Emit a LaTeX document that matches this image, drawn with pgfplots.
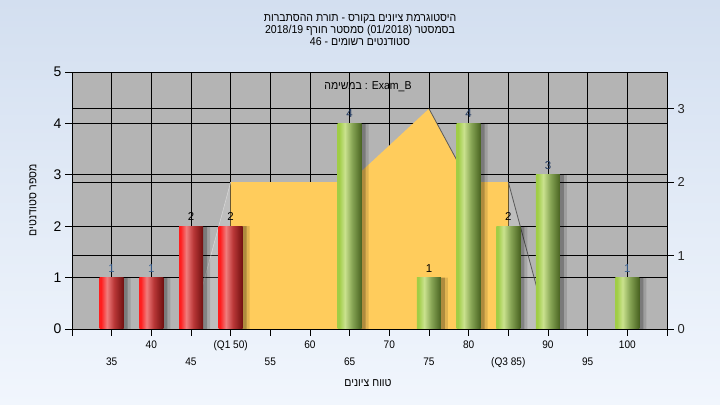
\documentclass[border=0pt]{standalone}
\usepackage{pgfplots}
\pgfplotsset{compat=1.18}
\usepackage{fontspec}
\setmainfont{Liberation Sans}
\newfontfamily\nar[FakeStretch=0.92]{Liberation Sans}
\newfontfamily\hebn[Script=Hebrew,FakeStretch=0.92]{Liberation Sans}
\TeXXeTstate=1

\definecolor{bgtop}{RGB}{211,223,240}
\definecolor{bgbot}{RGB}{241,246,253}
\definecolor{plotgray}{RGB}{180,180,180}
\definecolor{yel}{RGB}{255,204,92}
\definecolor{r1}{RGB}{255,30,30}
\definecolor{r2}{RGB}{240,125,125}
\definecolor{r3}{RGB}{185,55,55}
\definecolor{r4}{RGB}{112,15,15}
\definecolor{g1}{RGB}{160,205,70}
\definecolor{g2}{RGB}{202,226,142}
\definecolor{g3}{RGB}{135,165,85}
\definecolor{g4}{RGB}{72,98,32}
\definecolor{labblue}{RGB}{30,55,95}
\definecolor{labpale}{RGB}{55,95,145}

\pgfdeclarehorizontalshading{redcyl}{100bp}{color(0bp)=(r1); color(25bp)=(r1); color(28bp)=(r1); color(40bp)=(r2); color(55bp)=(r3); color(75bp)=(r4); color(100bp)=(r4)}
\pgfdeclarehorizontalshading{greencyl}{100bp}{color(0bp)=(g1); color(25bp)=(g1); color(28bp)=(g1); color(40bp)=(g2); color(55bp)=(g3); color(75bp)=(g4); color(100bp)=(g4)}

\pgfplotsset{
  common/.style={at={(72bp,76bp)}, anchor=south west, scale only axis,
    width=595bp, height=257bp, xmin=30, xmax=105,
    /pgf/number format/assume math mode=true},
  shadowA/.style={ybar, bar width=24bp, bar shift=4bp, fill=black, fill opacity=0.22, draw=none},
  shadowB/.style={ybar, bar width=24bp, bar shift=7bp, fill=black, fill opacity=0.12, draw=none},
  redbar/.style={ybar, bar width=24bp, bar shift=0bp, shading=redcyl, shading angle=0, draw=none, nodes near coords,
    every node near coord/.append style={text=#1}},
  greenbar/.style={ybar, bar width=24bp, bar shift=0bp, shading=greencyl, shading angle=0, draw=none, nodes near coords,
    every node near coord/.append style={text=#1}},
}
\newcommand\hebfont{\hebn\fontsize{11.5}{13}\selectfont}

\begin{document}
\begin{tikzpicture}
\shade[top color=bgtop, bottom color=bgbot] (0,0) rectangle (720bp,405bp);

% Axis A: background and left/vertical grid
\begin{axis}[common, ymin=0, ymax=5,
  axis background/.style={fill=plotgray},
  xtick={30,35,...,105}, ytick={0,...,5},
  xticklabels={}, yticklabels={},
  major tick length=0pt, axis line style={draw=none},
  grid=major, grid style={black, line width=0.8bp}]
\addplot[draw=none] coordinates {(30,0)};
\end{axis}

% Axis B: right axis, its grid, and the area
\begin{axis}[common, ymin=0, ymax=3.5,
  axis x line=none, axis y line*=right,
  every outer y axis line/.append style={-},
  y axis line style={black, line width=0.8bp},
  ytick={0,1,2,3}, ymajorgrids, grid style={black, line width=0.8bp},
  tick align=outside, major tick length=7bp,
  ytick style={black, line width=0.8bp},
  yticklabel style={font=\fontsize{13}{13}\selectfont, text=black!85}]
\addplot[fill=white, fill opacity=0.14, draw=none] coordinates {(45,0)(50,2)(50,0)} \closedcycle;
\addplot[fill=white, fill opacity=0.14, draw=none] coordinates {(85,0)(85,2)(90,0)} \closedcycle;
\addplot[fill=yel, draw=none] coordinates {(50,0)(50,2)(65,2)(75,3)(80,2)(85,2)(85,0)} \closedcycle;
\addplot[draw=white!70!gray, line width=0.5bp] coordinates {(45,0)(50,2)};
\addplot[draw=black!65, line width=0.8bp] coordinates {(75,3)(80,2)};
\addplot[draw=black!65, line width=0.8bp] coordinates {(85,2)(90,0)};
\end{axis}

% Axis C: bars, left axis, x axis
\begin{axis}[common, ymin=0, ymax=5,
  axis on top, axis background/.style={fill=none},
  axis line style={black, line width=0.8bp},
  tick style={black, line width=0.8bp}, tick align=outside, major tick length=7bp,
  tick pos=left,
  ytick={0,...,5}, yticklabel style={font=\fontsize{14}{14}\selectfont},
  xtick={40,50,...,100}, xticklabels={40,{(Q1 50)},60,70,80,90,100},
  extra x ticks={30,35,45,55,65,75,85,95,105},
  extra x tick labels={,35,45,55,65,75,{(Q3 85)},95,},
  extra x tick style={tick label style={yshift=-17bp}},
  xticklabel style={font=\nar\fontsize{11}{12}\selectfont, yshift=-1bp},
  every node near coord/.append style={font=\fontsize{11.5}{12}\selectfont, yshift=2bp},
  ]
% shadows
\addplot[shadowA] coordinates {(35,1)(40,1)(45,2)(50,2)(65,4)(75,1)(80,4)(85,2)(90,3)(100,1)};
\addplot[shadowB] coordinates {(35,1)(40,1)(45,2)(50,2)(65,4)(75,1)(80,4)(85,2)(90,3)(100,1)};
% red bars
\addplot[redbar=labpale] coordinates {(35,1)};
\addplot[redbar=labpale] coordinates {(40,1)};
\addplot[redbar=black] coordinates {(45,2)};
\addplot[redbar=black] coordinates {(50,2)};
% green bars
\addplot[greenbar=labblue] coordinates {(65,4)};
\addplot[greenbar=black] coordinates {(75,1)};
\addplot[greenbar=labblue] coordinates {(80,4)};
\addplot[greenbar=black] coordinates {(85,2)};
\addplot[greenbar=labblue] coordinates {(90,3)};
\addplot[greenbar=labpale] coordinates {(100,1)};
\end{axis}

% Titles and labels
\node[anchor=base, font=\hebfont] at (360bp,383bp) {\beginR היסטוגרמת ציונים בקורס - תורת ההסתברות\endR};
\node[anchor=base, font=\hebfont] at (360bp,371bp) {\beginR בסמסטר  \beginL(01/2018)\endL{}  סמסטר חורף \beginL 2018/19\endL\endR};
\node[anchor=base, font=\hebfont] at (360bp,359bp) {\beginR סטודנטים רשומים - \beginL 46\endL\endR};
\node[anchor=base, font=\hebfont] at (368bp,315bp) {\beginR במשימה\endR{} : Exam\_B};
\node[anchor=base, font=\hebfont] at (368bp,19bp) {\beginR טווח ציונים\endR};
\node[rotate=90, font=\hebfont] at (33bp,205bp) {\beginR מספר סטודנטים\endR};
\end{tikzpicture}
\end{document}
